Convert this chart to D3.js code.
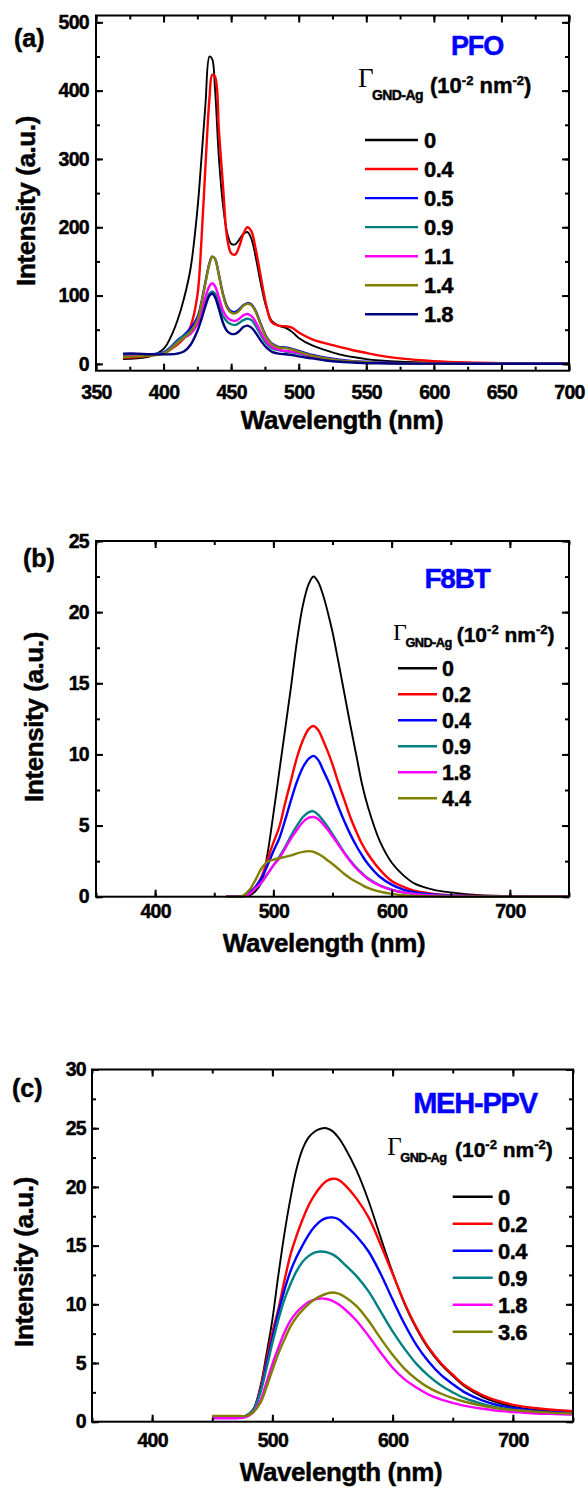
<!DOCTYPE html>
<html>
<head>
<meta charset="utf-8">
<script src="https://cdn.jsdelivr.net/npm/d3@7"></script>
<style>
  body { margin: 0; background: #fff; }
  svg text { font-family: "Liberation Sans", Arial, sans-serif; font-weight: bold; stroke-width: 0.45px; }
</style>
</head>
<body>
<svg id="chart" width="588" height="1490"></svg>
<script>
// ---------- data ----------
// (a) PFO
const pfoWavelength = [370, 380, 390, 400, 405, 410, 415, 420, 425, 428, 431, 434, 436, 438, 441, 444, 447, 450, 453, 456, 459, 462, 465, 468, 472, 476, 480, 485, 490, 495, 500, 510, 520, 530, 540, 550, 560, 575, 600, 625, 650, 675, 700];
const pfoLabels = ["0", "0.4", "0.5", "0.9", "1.1", "1.4", "1.8"];
const pfo_0 = [7, 8, 11, 22, 38, 62, 95, 140, 225, 300, 380, 450, 446, 405, 300, 232, 192, 176, 175, 182, 190, 193, 183, 158, 117, 83, 63, 56, 53, 47, 38, 27, 20, 14, 10, 7, 5, 3, 1.5, 1, 0.5, 0.3, 0.2];
const pfo_04 = [9, 10, 12, 16, 21, 28, 37, 55, 100, 180, 290, 390, 423, 421, 340, 260, 185, 162, 160, 172, 190, 200, 194, 170, 127, 86, 61, 56, 55, 53, 46, 36, 30, 25, 20, 16, 12, 8, 4, 2, 1, 0.5, 0.3];
const pfo_05 = [13, 14, 14, 17, 24, 34, 42, 52, 68, 90, 120, 148, 157, 154, 130, 102, 84, 77, 76, 80, 86, 89, 87, 78, 58, 40, 30, 25, 24, 22, 19, 13, 9, 6, 4, 3, 2, 1, 0.5, 0.3, 0.2, 0.1, 0.1];
const pfo_09 = [12, 13, 14, 16, 23, 33, 41, 48, 58, 72, 90, 103, 106, 103, 88, 70, 62, 58, 57, 60, 64, 66, 64, 56, 42, 30, 23, 20, 18, 17, 15, 10, 7, 5, 3, 2, 1.5, 1, 0.5, 0.3, 0.2, 0.1, 0.1];
const pfo_11 = [10, 12, 13, 15, 21, 30, 38, 44, 58, 76, 98, 114, 118, 114, 97, 78, 68, 64, 63, 66, 71, 73, 70, 62, 46, 33, 25, 21, 19, 18, 16, 11, 7.5, 5, 3, 2, 1.5, 1, 0.5, 0.3, 0.2, 0.1, 0.1];
const pfo_14 = [10, 11, 12, 15, 21, 30, 38, 47, 64, 88, 118, 147, 157, 154, 129, 101, 82, 75, 74, 78, 85, 88, 86, 77, 57, 39, 29, 24, 23, 21, 18, 12, 8, 5, 3.5, 2.5, 1.5, 0.8, 0.4, 0.2, 0.1, 0.1, 0.1];
const pfo_18 = [15, 15, 14, 14, 14, 15, 18, 28, 48, 65, 85, 100, 103, 98, 80, 60, 48, 44, 44, 48, 54, 56, 53, 46, 34, 24, 18, 15, 14, 13, 11, 8, 5, 3, 2, 1, 0.8, 0.5, 0.3, 0.2, 0.1, 0.1, 0.1];
const pfoXTicks = [350, 400, 450, 500, 550, 600, 650, 700];
const pfoYTicks = [0, 100, 200, 300, 400, 500];

// (b) F8BT
const f8btWavelength = [460, 470, 475, 480, 485, 490, 495, 500, 505, 510, 515, 520, 525, 530, 534, 538, 542, 546, 550, 555, 560, 565, 570, 575, 580, 590, 600, 610, 620, 635, 650, 675, 700, 725, 750];
const f8btLabels = ["0", "0.2", "0.4", "0.9", "1.8", "4.4"];
const f8bt_0 = [0, 0, 0.05, 0.1, 0.4, 1.0, 3.0, 5.8, 8.8, 11.8, 14.8, 18, 20.5, 22, 22.5, 22.1, 21.2, 20, 18.6, 16.5, 14.3, 12.1, 10.0, 7.9, 6.3, 3.9, 2.4, 1.5, 0.9, 0.5, 0.3, 0.1, 0.05, 0.02, 0];
const f8bt_02 = [0, 0, 0.05, 0.3, 0.7, 1.4, 2.6, 3.8, 4.9, 6.6, 8.2, 9.8, 11, 11.8, 12, 11.7, 11.0, 10.2, 9.3, 8, 6.8, 5.6, 4.6, 3.7, 3, 1.9, 1.1, 0.7, 0.4, 0.2, 0.1, 0.05, 0, 0, 0];
const f8bt_04 = [0, 0, 0.05, 0.3, 0.7, 1.3, 2.2, 3.2, 4.1, 5.4, 6.8, 8.1, 9.1, 9.7, 9.9, 9.6, 8.9, 8.2, 7.4, 6.3, 5.3, 4.4, 3.6, 2.9, 2.3, 1.4, 0.85, 0.5, 0.3, 0.15, 0.08, 0.03, 0, 0, 0];
const f8bt_09 = [0, 0, 0.05, 0.2, 0.6, 1.0, 1.6, 2.2, 2.8, 3.5, 4.3, 5.0, 5.6, 5.95, 6.0, 5.75, 5.35, 4.9, 4.4, 3.75, 3.1, 2.55, 2.05, 1.65, 1.3, 0.8, 0.5, 0.3, 0.2, 0.1, 0.05, 0, 0, 0, 0];
const f8bt_18 = [0, 0, 0.05, 0.2, 0.6, 1.0, 1.6, 2.2, 2.7, 3.4, 4.1, 4.7, 5.25, 5.55, 5.6, 5.45, 5.1, 4.7, 4.25, 3.65, 3.05, 2.5, 2.0, 1.6, 1.25, 0.78, 0.48, 0.3, 0.18, 0.09, 0.05, 0, 0, 0, 0];
const f8bt_44 = [0, 0, 0.1, 0.5, 1.2, 2.0, 2.45, 2.6, 2.7, 2.8, 2.9, 3.05, 3.15, 3.2, 3.15, 3.0, 2.8, 2.55, 2.3, 1.95, 1.6, 1.3, 1.05, 0.82, 0.62, 0.36, 0.2, 0.1, 0.05, 0.02, 0, 0, 0, 0, 0];
const f8btXTicks = [400, 500, 600, 700];
const f8btYTicks = [0, 5, 10, 15, 20, 25];

// (c) MEH-PPV
const mehWavelength = [450, 460, 470, 478, 484, 490, 495, 500, 505, 510, 515, 520, 525, 530, 535, 540, 545, 550, 555, 560, 570, 580, 590, 600, 610, 620, 630, 640, 650, 660, 675, 690, 705, 720, 735, 750];
const mehLabels = ["0", "0.2", "0.4", "0.9", "1.8", "3.6"];
const meh_0 = [0.4, 0.4, 0.4, 0.5, 1.0, 3.0, 5.7, 8.7, 12.5, 16, 19, 21.5, 23.2, 24.2, 24.7, 24.95, 25, 24.75, 24.2, 23.4, 21.4, 18.8, 15.7, 12.7, 10.0, 7.9, 6.2, 4.9, 3.9, 3.0, 2.1, 1.55, 1.2, 1.0, 0.85, 0.75];
const meh_02 = [0.4, 0.4, 0.4, 0.5, 1.0, 2.8, 5.2, 7.6, 9.6, 12.0, 14.2, 15.8, 17.2, 18.4, 19.3, 20.0, 20.5, 20.7, 20.6, 20.2, 19.0, 17.4, 15.1, 12.6, 10.1, 8.0, 6.3, 5.0, 4.0, 3.1, 2.25, 1.7, 1.35, 1.15, 1.0, 0.9];
const meh_04 = [0.4, 0.4, 0.4, 0.5, 1.0, 2.6, 4.8, 7.1, 9.3, 11.2, 12.8, 14.0, 15.0, 15.9, 16.6, 17.1, 17.35, 17.4, 17.25, 16.8, 15.8, 14.5, 12.6, 10.4, 8.3, 6.5, 5.1, 4.0, 3.2, 2.5, 1.8, 1.35, 1.1, 0.9, 0.8, 0.7];
const meh_09 = [0.4, 0.4, 0.4, 0.5, 1.0, 2.5, 4.5, 6.7, 8.7, 10.4, 11.7, 12.8, 13.6, 14.1, 14.4, 14.5, 14.45, 14.25, 13.9, 13.4, 12.4, 11.1, 9.4, 7.7, 6.2, 4.9, 3.9, 3.1, 2.5, 2.0, 1.5, 1.15, 0.95, 0.8, 0.7, 0.65];
const meh_18 = [0.3, 0.3, 0.3, 0.4, 0.8, 1.8, 3.3, 4.9, 6.3, 7.6, 8.6, 9.3, 9.8, 10.2, 10.4, 10.5, 10.45, 10.3, 10.0, 9.6, 8.6, 7.3, 5.9, 4.6, 3.6, 2.9, 2.3, 1.9, 1.6, 1.35, 1.1, 0.9, 0.8, 0.7, 0.65, 0.6];
const meh_36 = [0.5, 0.5, 0.5, 0.5, 0.8, 1.6, 2.9, 4.4, 5.8, 7.0, 8.1, 8.9, 9.5, 10.0, 10.4, 10.7, 10.9, 11.0, 10.9, 10.65, 9.85, 8.6, 7.1, 5.7, 4.5, 3.6, 2.9, 2.4, 2.0, 1.7, 1.35, 1.1, 0.95, 0.85, 0.75, 0.7];
const mehXTicks = [400, 500, 600, 700];
const mehYTicks = [0, 5, 10, 15, 20, 25, 30];

const colors7 = ["#000000", "#ff0000", "#0000ff", "#008080", "#ff00ff", "#808000", "#000080"];
const colors6 = ["#000000", "#ff0000", "#0000ff", "#008080", "#ff00ff", "#808000"];

const svg = d3.select("#chart");

function drawPanel(p) {
  const x = d3.scaleLinear().domain(p.xDomain).range([p.left, p.right]);
  const y = d3.scaleLinear().domain(p.yDomain).range([p.bottom, p.top]);
  const g = svg.append("g");

  // curves
  const line = d3.line()
    .x((d) => x(d[0]))
    .y((d) => y(d[1]))
    .curve(d3.curveCatmullRom.alpha(0.5));
  p.series.forEach((vals, i) => {
    g.append("path")
      .datum(p.wavelength.map((w, j) => [w, vals[j]]))
      .attr("fill", "none")
      .attr("stroke", p.colors[i])
      .attr("stroke-width", i === 0 ? 1.9 : 2.4)
      .attr("stroke-linejoin", "round")
      .attr("d", line);
  });

  // minor ticks on all four sides
  const minorX = d3.range(p.xDomain[0], p.xDomain[1] + 0.001, p.xMinor);
  const minorY = d3.range(p.yMinorStart, p.yDomain[1] + 0.001, p.yMinor);
  const addAxis = (axis, tx, ty, withText) => {
    const a = g.append("g").attr("transform", `translate(${tx},${ty})`).call(axis);
    a.select(".domain").remove();
    a.selectAll("line").attr("stroke", "#000").attr("stroke-width", 2);
    if (!withText) a.selectAll("text").remove();
    return a;
  };
  addAxis(d3.axisBottom(x).tickValues(minorX).tickSize(-4).tickFormat(""), 0, p.bottom, false);
  addAxis(d3.axisTop(x).tickValues(minorX).tickSize(-4).tickFormat(""), 0, p.top, false);
  addAxis(d3.axisLeft(y).tickValues(minorY).tickSize(-4).tickFormat(""), p.left, 0, false);
  addAxis(d3.axisRight(y).tickValues(minorY).tickSize(-4).tickFormat(""), p.right, 0, false);

  // major ticks + labels
  const bx = addAxis(d3.axisBottom(x).tickValues(p.xTicks).tickSize(-7).tickPadding(p.xPad).tickFormat(d3.format("d")), 0, p.bottom, true);
  addAxis(d3.axisTop(x).tickValues(p.xTicks).tickSize(-7), 0, p.top, false);
  const ly = addAxis(d3.axisLeft(y).tickValues(p.yTicks).tickSize(-7).tickPadding(p.yPad).tickFormat(d3.format("d")), p.left, 0, true);
  addAxis(d3.axisRight(y).tickValues(p.yTicks).tickSize(-7), p.right, 0, false);
  [bx, ly].forEach((a) => a.attr("font-family", null).attr("font-size", 19.5)
    .selectAll("text").attr("fill", "#000").attr("stroke", "#000")
    .style("letter-spacing", "-0.7px"));

  // frame
  g.append("rect")
    .attr("x", p.left).attr("y", p.top)
    .attr("width", p.right - p.left).attr("height", p.bottom - p.top)
    .attr("fill", "none").attr("stroke", "#000").attr("stroke-width", 2);

  // axis titles
  g.append("text")
    .attr("x", p.xTitle[0]).attr("y", p.xTitle[1])
    .attr("text-anchor", "middle").attr("font-size", 26)
    .attr("stroke", "#000")
    .style("letter-spacing", "-0.4px")
    .text("Wavelength (nm)");
  g.append("text")
    .attr("transform", `translate(${p.yTitle[0]},${p.yTitle[1]}) rotate(-90)`)
    .attr("text-anchor", "middle").attr("font-size", 26)
    .attr("stroke", "#000")
    .style("letter-spacing", "-0.4px")
    .text("Intensity (a.u.)");

  // panel tag
  g.append("text")
    .attr("x", p.tag[0]).attr("y", p.tag[1])
    .attr("font-size", 25).attr("stroke", "#000")
    .text(p.tagText);

  // polymer name
  g.append("text")
    .attr("x", p.name[0]).attr("y", p.name[1])
    .attr("text-anchor", "middle").attr("font-size", p.name[2])
    .attr("fill", "#0000ff").attr("stroke", "#0000ff")
    .style("letter-spacing", "-1.2px")
    .text(p.nameText);

  // legend header: Γ_GND-Ag (10^-2 nm^-2)
  const h = p.header;
  g.append("text")
    .attr("x", h.gx).attr("y", h.gy)
    .attr("font-size", h.gSize)
    .style("font-family", "'Liberation Serif', 'Times New Roman', serif")
    .style("font-weight", "normal")
    .text("\u0393");
  g.append("text")
    .attr("x", h.gx + h.gSize * 0.52).attr("y", h.sy)
    .attr("font-size", h.subSize).attr("stroke", "#000")
    .style("letter-spacing", "-0.6px")
    .text("GND-Ag");
  const unit = g.append("text")
    .attr("x", h.ux).attr("y", h.uy)
    .attr("font-size", h.uSize).attr("stroke", "#000");
  unit.append("tspan").text("(10");
  unit.append("tspan").attr("dy", -8).attr("font-size", 13).text("-2");
  unit.append("tspan").attr("dy", 8).text(" nm");
  unit.append("tspan").attr("dy", -8).attr("font-size", 13).text("-2");
  unit.append("tspan").attr("dy", 8).text(")");

  // legend entries
  const lg = p.legend;
  p.labels.forEach((lab, i) => {
    const ry = lg.y0 + i * lg.dy;
    g.append("line")
      .attr("x1", lg.x1).attr("x2", lg.x2)
      .attr("y1", ry).attr("y2", ry)
      .attr("stroke", p.colors[i]).attr("stroke-width", 2.4);
    g.append("text")
      .attr("x", lg.tx).attr("y", ry + 0.36 * lg.size)
      .attr("font-size", lg.size).attr("stroke", "#000")
      .style("letter-spacing", "-0.5px")
      .text(lab);
  });
}

drawPanel({
  left: 96, right: 569, top: 15.5, bottom: 370.7,
  xDomain: [350, 700], yDomain: [-10, 510],
  xTicks: pfoXTicks, yTicks: pfoYTicks,
  xMinor: 25, yMinor: 50, yMinorStart: 0,
  xPad: 14.8, yPad: 7,
  wavelength: pfoWavelength,
  series: [pfo_0, pfo_04, pfo_05, pfo_09, pfo_11, pfo_14, pfo_18],
  colors: colors7, labels: pfoLabels,
  xTitle: [342, 429], yTitle: [35, 201],
  tag: [14, 47], tagText: "(a)",
  name: [477, 55, 27], nameText: "PFO",
  header: { gx: 358, gy: 87, gSize: 27, sy: 99.5, subSize: 14, ux: 430, uy: 93.3, uSize: 22 },
  legend: { x1: 365, x2: 418, tx: 424, y0: 140, dy: 29.05, size: 22 }
});

drawPanel({
  left: 96, right: 569, top: 541, bottom: 896.7,
  xDomain: [350, 750], yDomain: [0, 25],
  xTicks: f8btXTicks, yTicks: f8btYTicks,
  xMinor: 50, yMinor: 2.5, yMinorStart: 0,
  xPad: 7.8, yPad: 7,
  wavelength: f8btWavelength,
  series: [f8bt_0, f8bt_02, f8bt_04, f8bt_09, f8bt_18, f8bt_44],
  colors: colors6, labels: f8btLabels,
  xTitle: [324, 952], yTitle: [42.5, 717],
  tag: [23, 567], tagText: "(b)",
  name: [457, 588, 28], nameText: "F8BT",
  header: { gx: 393, gy: 640, gSize: 24, sy: 646.7, subSize: 12.8, ux: 456.7, uy: 641.7, uSize: 21 },
  legend: { x1: 398, x2: 437, tx: 442, y0: 668.3, dy: 26, size: 21.5 }
});

drawPanel({
  left: 92, right: 573, top: 1069.5, bottom: 1421.7,
  xDomain: [350, 750], yDomain: [0, 30],
  xTicks: mehXTicks, yTicks: mehYTicks,
  xMinor: 50, yMinor: 2.5, yMinorStart: 0,
  xPad: 11.8, yPad: 6,
  wavelength: mehWavelength,
  series: [meh_0, meh_02, meh_04, meh_09, meh_18, meh_36],
  colors: colors6, labels: mehLabels,
  xTitle: [341, 1481], yTitle: [33, 1262],
  tag: [12, 1097], tagText: "(c)",
  name: [475, 1113, 29], nameText: "MEH-PPV",
  header: { gx: 387.3, gy: 1155, gSize: 25, sy: 1162.3, subSize: 12.8, ux: 455, uy: 1156.7, uSize: 21 },
  legend: { x1: 452.7, x2: 492.7, tx: 498, y0: 1196.7, dy: 27, size: 22 }
});
</script>
</body>
</html>
